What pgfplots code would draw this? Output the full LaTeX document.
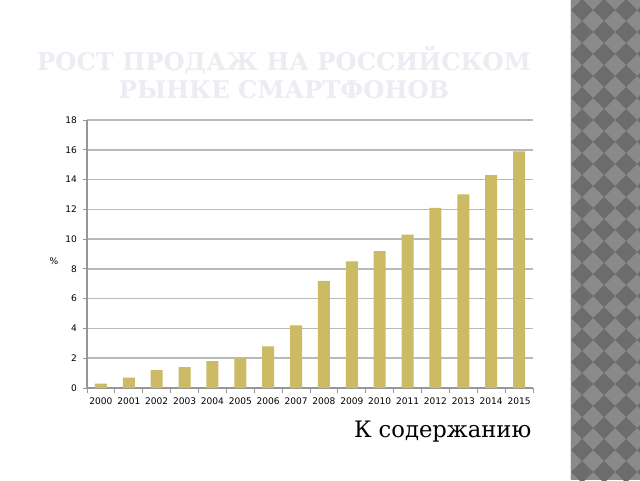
\documentclass[border=0pt]{standalone}
\usepackage{fontspec}
\usepackage{pgfplots}
\pgfplotsset{compat=1.18}
\newfontfamily\tickfont{DejaVu Sans}
\newfontfamily\titlefont{DejaVu Serif}
\definecolor{barcol}{RGB}{205,186,100}
\definecolor{gridcol}{RGB}{185,185,185}
\definecolor{axcol}{RGB}{150,150,150}
\definecolor{titlecol}{RGB}{236,236,243}
\definecolor{stripdark}{RGB}{108,108,108}
\definecolor{striplight}{RGB}{138,138,138}
\begin{document}
\begin{tikzpicture}[x=0.75pt,y=0.75pt]
% pixel coordinates: x to the right, y = 480 - (pixel row)
\useasboundingbox (0,0) rectangle (640,480);
\fill[white] (0,0) rectangle (640,480);
% decorative strip on the right
\begin{scope}
\clip (571,0) rectangle (640,480);
\fill[striplight] (571,0) rectangle (640,480);
\foreach \i in {0,...,4}{
  \foreach \j in {0,...,22}{
    \fill[stripdark] ({560+22*\i},{481-22*\j}) -- ++(11,-11) -- ++(-11,-11) -- ++(-11,11) -- cycle;
  }
}
\end{scope}
\draw[line width=0.9pt,white!80!gray] (570.5,0) -- (570.5,480);
% title
\node[font=\titlefont\bfseries\fontsize{18.2}{21}\selectfont, text=titlecol, align=center]
  at (284,407) {РОСТ ПРОДАЖ НА РОССИЙСКОМ\\РЫНКЕ СМАРТФОНОВ};
\node[font=\tickfont\fontsize{6.8}{8}\selectfont] at (54,219) {\%};
\begin{axis}[
    at={(87pt*0.75,92pt*0.75)}, anchor=south west,
    scale only axis,
    width=334.5pt, height=201pt,
    ybar, bar width=0.43,
    xmin=-0.5, xmax=15.5,
    ymin=0, ymax=18,
    ytick={0,2,...,18},
    xtick={0,...,15},
    xticklabels={2000,2001,2002,2003,2004,2005,2006,2007,2008,2009,2010,2011,2012,2013,2014,2015},
    minor xtick={-0.5,0.5,...,15.5},
    major x tick style={draw=none},
    minor tick length=4pt,
    major tick length=3pt,
    tick align=outside,
    tick style={axcol, line width=0.6pt},
    ymajorgrids,
    grid style={gridcol, line width=1.2pt},
    axis x line*=bottom,
    axis y line*=left,
    axis line style={axcol, line width=0.8pt, -},
    ticklabel style={font=\tickfont\fontsize{6.8}{8}\selectfont},
    /pgf/number format/assume math mode=true,
    yticklabel style={xshift=-1pt},
    xticklabel style={yshift=-1pt},
]
\addplot[fill=barcol, draw=none] coordinates {
    (0,0.3) (1,0.7) (2,1.2) (3,1.4) (4,1.8) (5,2.0) (6,2.8) (7,4.2)
    (8,7.2) (9,8.5) (10,9.2) (11,10.3) (12,12.1) (13,13.0) (14,14.3) (15,15.9)
};
\end{axis}
\node[font=\titlefont\fontsize{17}{20}\selectfont, anchor=base east] at (536,43) {К содержанию};
\end{tikzpicture}
\end{document}
